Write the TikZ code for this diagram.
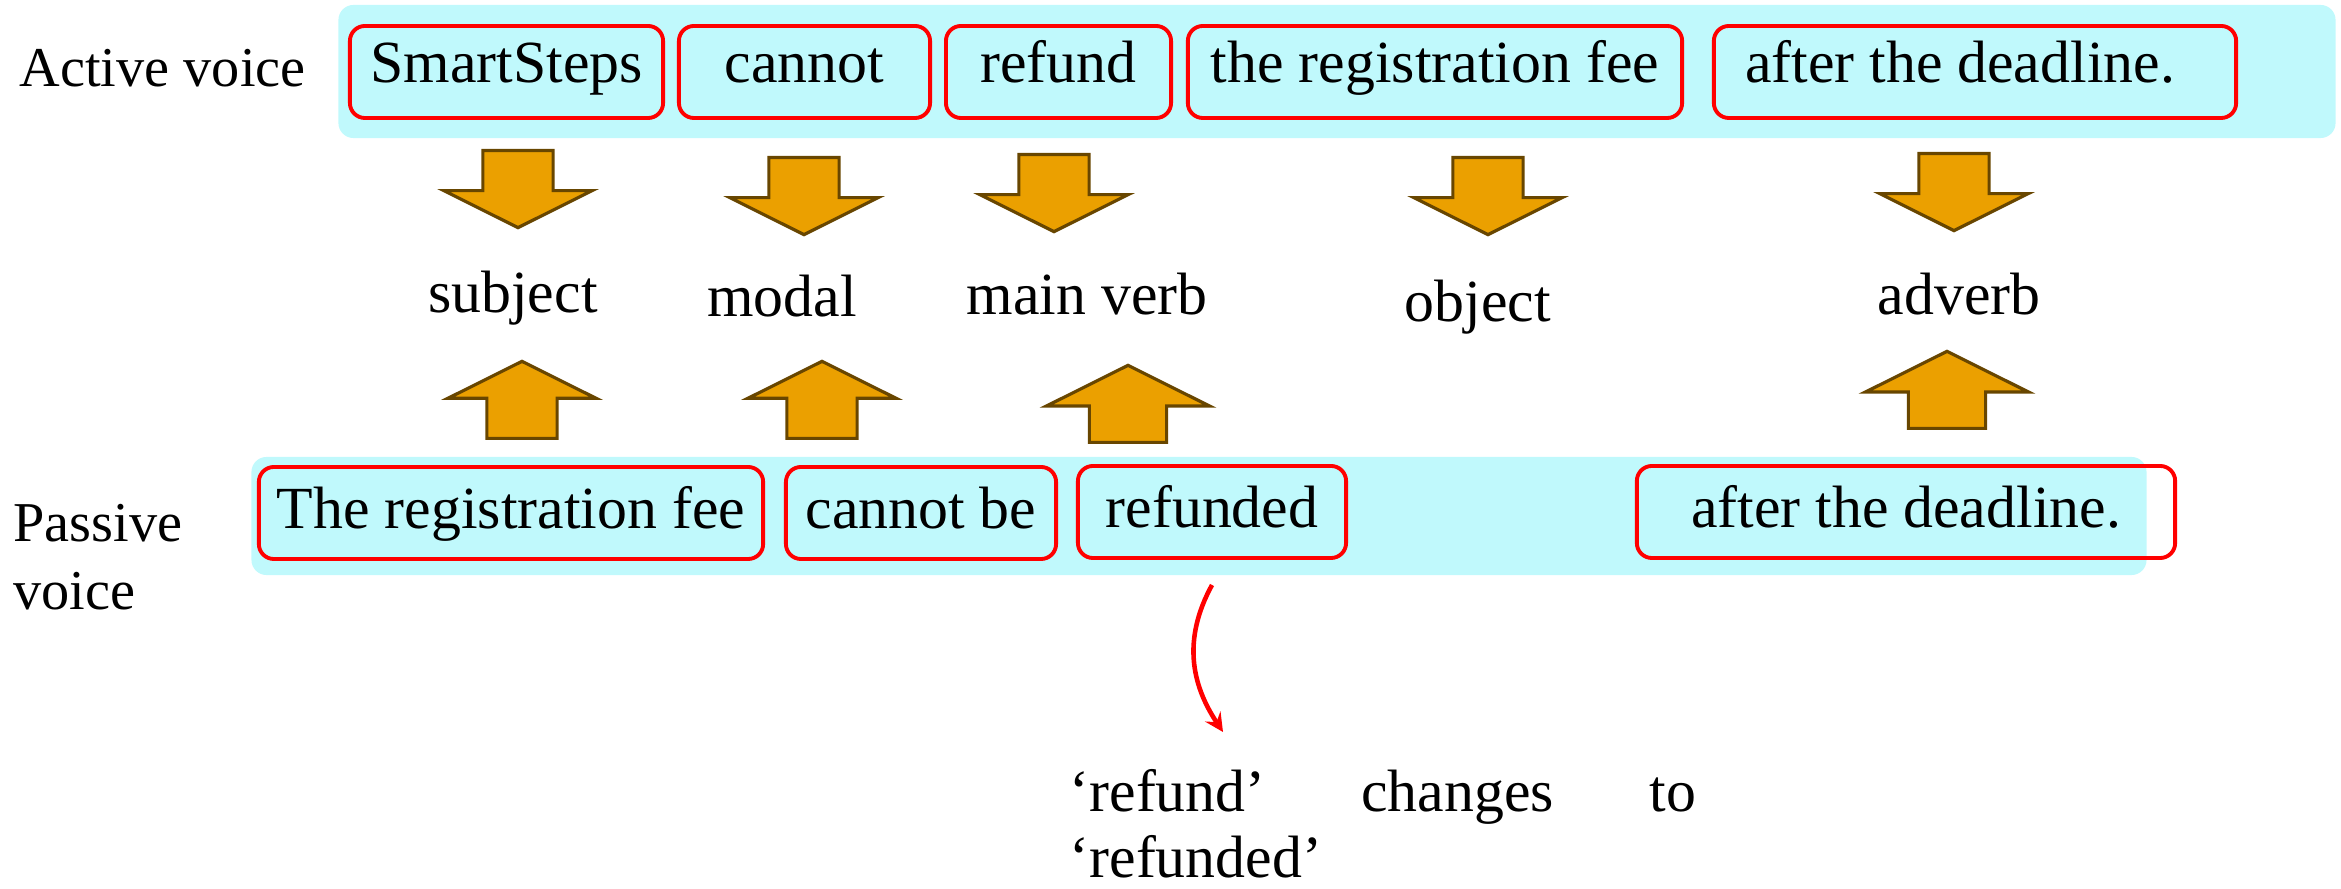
\documentclass[tikz,border=0pt]{standalone}
\usepackage{fontspec}
\setmainfont{Liberation Serif}
\usetikzlibrary{positioning,shapes.arrows}
\definecolor{bandcyan}{RGB}{192,249,252}
\definecolor{blockfill}{RGB}{235,160,0}
\definecolor{blockline}{RGB}{104,70,0}

\begin{document}
\begin{tikzpicture}[x=0.01cm,y=-0.01cm]
	\useasboundingbox (0,0) rectangle (2341,889);
	\tikzstyle{band}=[fill=bandcyan, rounded corners=0.15cm, inner sep=0pt]
	\tikzstyle{word}=[draw=red, line width=1.1pt, rounded corners=0.15cm, minimum height=0.92cm, inner sep=0pt, text height=0.45cm, text depth=0.23cm, font=\fontsize{17}{20}\selectfont]
	\tikzstyle{role}=[inner sep=0pt, anchor=base, font=\fontsize{17}{20}\selectfont]
	\tikzstyle{side}=[inner sep=0pt, anchor=base west, align=left, font=\fontsize{16}{19.6}\selectfont]
	\tikzstyle{downblock}=[single arrow, shape border rotate=270, draw=blockline, fill=blockfill, line width=0.9pt, minimum height=0.77cm, single arrow head extend=0.39cm, single arrow tip angle=127, inner xsep=0.335cm, inner ysep=0pt, anchor=tail]
	\tikzstyle{upblock}=[downblock, shape border rotate=90]
		\node[band, minimum width=19.96cm, minimum height=1.33cm] (activeband) at (1337,71.5) {};
		\node[band, minimum width=18.94cm, minimum height=1.18cm] (passiveband) at (1199,516) {};
		\node[side] (activelbl) at (19,87) {Active voice};
		\node[side] (passivelbl) at (13,610) {Passive\\voice};
		\node[word, minimum width=3.13cm] (a1) at (506.5,72) {SmartSteps};
		\node[word, minimum width=2.51cm] (a2) at (804.5,72) {cannot};
		\node[word, minimum width=2.25cm] (a3) at (1058.5,72) {refund};
		\node[word, minimum width=4.94cm] (a4) at (1435,72) {the registration fee};
		\node[word, minimum width=5.22cm] (a5) at (1975,72) {after the deadline.\hspace*{0.3cm}};
		\node[word, minimum width=5.04cm, text depth=0.13cm] (p1) at (511,513) {The registration fee};
		\node[word, minimum width=2.70cm, text depth=0.13cm] (p2) at (921,513) {cannot be};
		\node[word, minimum width=2.68cm, text depth=0.13cm] (p3) at (1212,512) {refunded};
		\node[word, minimum width=5.38cm, text depth=0.13cm] (p5) at (1906,512) {after the deadline.};
		\node[downblock] (d1) at (518,149) {};
		\node[downblock] (d2) at (804,156) {};
		\node[downblock] (d3) at (1054,153) {};
		\node[downblock] (d4) at (1488,156) {};
		\node[downblock] (d5) at (1954,152) {};
		\node[role] (subject) at (513,313) {subject};
		\node[role] (modal) at (782,317) {modal};
		\node[role] (mainverb) at (1087,315) {main verb};
		\node[role] (object) at (1478,322) {object};
		\node[role] (adverb) at (1959,315) {adverb};
		\node[upblock] (u1) at (522,440) {};
		\node[upblock] (u2) at (822,440) {};
		\node[upblock, single arrow head extend=0.43cm, inner xsep=0.37cm] (u3) at (1128,444) {};
		\node[upblock, single arrow head extend=0.43cm, inner xsep=0.37cm] (u5) at (1947,430) {};
		\node[role, anchor=base west, text width=6.26cm, align=left, font=\fontsize{17}{18.6}\selectfont] (note) at (1069,812) {‘refund’\hfill changes\hfill to\\‘refunded’};
		\coordinate (bendtop) at (1212,585);
		\coordinate (bendend) at (1223,732);
			\draw[-stealth, red, line width=1.3pt] (bendtop) .. controls (1182,640) and (1192,685) .. (bendend);
\end{tikzpicture}
\end{document}
